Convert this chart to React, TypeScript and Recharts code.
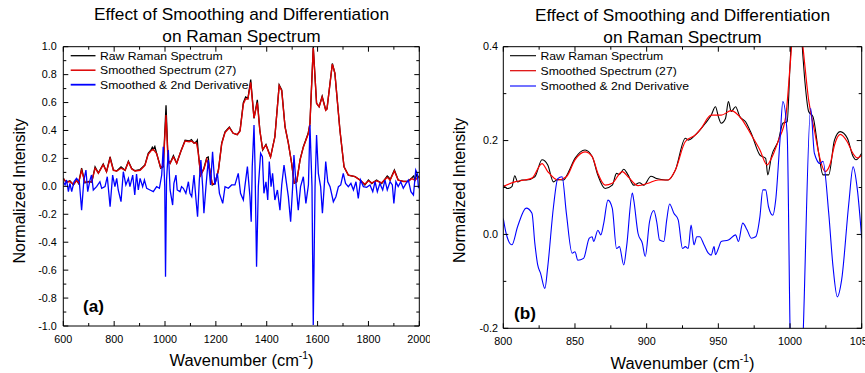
import React from 'react';
import { LineChart, Line, XAxis, YAxis } from 'recharts';

const FONT = '"Liberation Sans", Arial, Helvetica, sans-serif';
const SX = 1.08; // the source image is slightly stretched sideways

type Pt = [number, number];

// ---- panel (a): full spectrum, wavenumber vs normalized intensity ----
const rawA: Pt[] = [
  [600, 0.06], [606, 0.04], [613, 0.03], [626, 0.04], [640, 0.01], [652, 0.045], [660, 0.02], [672, 0.13],
  [685, 0.025], [700, 0.035], [712, 0.03], [725, 0.14], [738, 0.095], [757, 0.16], [770, 0.105], [784, 0.21],
  [797, 0.117], [810, 0.11], [827, 0.14], [843, 0.115], [856, 0.18], [869, 0.127], [882, 0.112], [902, 0.12],
  [921, 0.153], [934, 0.236], [945, 0.26], [950, 0.28], [954, 0.265], [960, 0.285], [967, 0.236], [983, 0.13],
  [993, 0.14], [1004, 0.58], [1012, 0.19], [1020, 0.165], [1033, 0.22], [1046, 0.165], [1062, 0.25], [1079, 0.33],
  [1095, 0.325], [1104, 0.335], [1114, 0.31], [1124, 0.32], [1127, 0.33], [1130, 0.26], [1140, 0.08], [1153, 0.13],
  [1164, 0.205], [1170, 0.21], [1174, 0.14], [1186, 0.01], [1197, 0.022], [1210, 0.117], [1223, 0.31], [1236, 0.39],
  [1253, 0.425], [1268, 0.38], [1284, 0.37], [1295, 0.4], [1308, 0.6], [1317, 0.64], [1326, 0.63], [1337, 0.765],
  [1350, 0.487], [1363, 0.62], [1373, 0.4], [1384, 0.26], [1397, 0.3], [1415, 0.21], [1432, 0.355], [1449, 0.726],
  [1459, 0.69], [1472, 0.427], [1485, 0.31], [1498, 0.165], [1508, 0.022], [1518, 0.033], [1531, 0.19], [1544, 0.284],
  [1563, 0.38], [1570, 0.45], [1583, 1.0], [1596, 0.595], [1606, 0.57], [1618, 0.645], [1632, 0.547], [1637, 0.555],
  [1658, 0.88], [1668, 0.81], [1688, 0.4], [1704, 0.14], [1721, 0.08], [1747, 0.07], [1767, 0.045], [1786, 0.01],
  [1800, 0.045], [1813, 0.02], [1832, 0.045], [1852, 0.02], [1874, 0.075], [1880, 0.065], [1885, 0.045], [1902, 0.117],
  [1917, 0.045], [1937, 0.035], [1956, 0.035], [1970, 0.06], [1978, 0.075], [1983, 0.045], [1990, 0.085], [1996, 0.07],
  [2000, 0.06],
];

const smoothA: Pt[] = [
  [600, 0.055], [613, 0.03], [626, 0.035], [640, 0.015], [652, 0.04], [660, 0.025], [672, 0.115], [685, 0.03],
  [700, 0.03], [712, 0.035], [725, 0.13], [738, 0.095], [757, 0.155], [770, 0.105], [784, 0.2], [797, 0.115],
  [810, 0.11], [827, 0.13], [843, 0.115], [856, 0.175], [869, 0.125], [882, 0.11], [902, 0.115], [921, 0.15],
  [934, 0.23], [945, 0.255], [954, 0.265], [967, 0.235], [983, 0.135], [993, 0.15], [1004, 0.51], [1012, 0.18],
  [1020, 0.165], [1033, 0.21], [1046, 0.165], [1062, 0.25], [1079, 0.325], [1095, 0.32], [1104, 0.325], [1114, 0.31],
  [1124, 0.31], [1130, 0.25], [1140, 0.08], [1153, 0.125], [1164, 0.195], [1174, 0.14], [1186, 0.015], [1197, 0.025],
  [1210, 0.115], [1223, 0.305], [1236, 0.385], [1253, 0.42], [1268, 0.38], [1284, 0.37], [1295, 0.395], [1308, 0.59],
  [1317, 0.625], [1326, 0.625], [1337, 0.745], [1350, 0.49], [1363, 0.6], [1373, 0.4], [1384, 0.265], [1397, 0.295],
  [1415, 0.21], [1432, 0.355], [1449, 0.72], [1459, 0.685], [1472, 0.425], [1485, 0.31], [1498, 0.165], [1508, 0.025],
  [1518, 0.035], [1531, 0.19], [1544, 0.28], [1563, 0.375], [1570, 0.45], [1583, 0.99], [1596, 0.595], [1606, 0.57],
  [1618, 0.64], [1632, 0.545], [1637, 0.555], [1658, 0.875], [1668, 0.81], [1688, 0.4], [1704, 0.14], [1721, 0.08],
  [1747, 0.07], [1767, 0.045], [1786, 0.015], [1800, 0.04], [1813, 0.025], [1832, 0.04], [1852, 0.025], [1874, 0.065],
  [1885, 0.045], [1902, 0.11], [1917, 0.045], [1937, 0.035], [1956, 0.035], [1970, 0.055], [1983, 0.045], [1996, 0.065],
  [2000, 0.06],
];

const derivA: Pt[] = [
  [600, 0.033], [607, 0.01], [613, 0.045], [620, -0.038], [626, 0.021], [633, -0.038], [642, 0.033], [652, 0.057],
  [663, 0.033], [672, -0.17], [681, 0.045], [689, 0.117], [696, -0.038], [705, 0.045], [711, 0.081], [718, -0.026],
  [731, -0.002], [744, 0.033], [751, -0.014], [764, -0.002], [773, 0.069], [784, -0.146], [794, 0.081], [803, -0.002],
  [810, 0.057], [816, -0.026], [827, -0.11], [836, 0.105], [846, 0.01], [856, 0.057], [862, -0.002], [873, 0.081],
  [881, -0.062], [888, 0.088], [895, -0.026], [902, 0.057], [912, -0.002], [919, 0.045], [928, -0.014], [941, -0.026],
  [954, -0.038], [967, -0.002], [978, -0.014], [987, 0.081], [993, 0.284], [999, -0.002], [1002, -0.647], [1006, 0.045],
  [1013, 0.26], [1020, -0.026], [1030, -0.134], [1035, 0.021], [1043, 0.081], [1048, -0.026], [1059, -0.038], [1065, -0.002],
  [1072, -0.014], [1082, -0.05], [1092, 0.033], [1098, -0.05], [1105, -0.074], [1114, 0.081], [1122, -0.098], [1128, -0.217],
  [1135, 0.045], [1141, 0.189], [1148, -0.002], [1153, -0.193], [1161, -0.002], [1170, 0.189], [1179, 0.01], [1187, 0.248],
  [1196, 0.01], [1206, 0.093], [1214, -0.05], [1227, -0.122], [1236, -0.002], [1249, -0.014], [1262, 0.01], [1275, 0.01],
  [1288, 0.093], [1297, -0.05], [1308, -0.098], [1314, -0.002], [1324, 0.141], [1334, -0.074], [1339, -0.253], [1343, 0.141],
  [1350, 0.439], [1354, 0.141], [1360, -0.575], [1367, -0.002], [1376, 0.236], [1383, 0.212], [1389, -0.05], [1397, 0.033],
  [1404, -0.098], [1410, 0.177], [1417, -0.002], [1423, 0.093], [1432, -0.098], [1442, -0.026], [1452, -0.17], [1459, 0.01],
  [1468, 0.153], [1476, 0.045], [1485, -0.074], [1494, -0.253], [1502, -0.002], [1507, 0.224], [1515, 0.021], [1524, -0.17],
  [1533, -0.002], [1544, 0.069], [1554, -0.122], [1564, 0.01], [1570, 0.439], [1578, -0.002], [1583, -0.993], [1590, -0.002],
  [1596, 0.368], [1603, 0.093], [1612, -0.002], [1619, -0.193], [1626, -0.002], [1632, 0.177], [1640, 0.033], [1649, -0.002],
  [1662, -0.11], [1672, -0.074], [1682, -0.002], [1691, 0.01], [1701, 0.093], [1710, 0.021], [1721, -0.002], [1731, 0.021],
  [1741, -0.026], [1751, 0.033], [1760, -0.086], [1769, 0.045], [1780, -0.002], [1793, -0.007], [1806, 0.01], [1817, -0.038],
  [1826, 0.033], [1835, -0.038], [1845, 0.021], [1856, -0.026], [1865, 0.045], [1874, -0.026], [1885, 0.033], [1894, 0.01],
  [1900, -0.122], [1908, 0.033], [1917, -0.002], [1927, 0.033], [1937, -0.014], [1948, 0.021], [1957, 0.045], [1967, -0.038],
  [1977, -0.062], [1986, 0.117], [1992, 0.093], [1997, -0.014],
];

// ---- panel (b): zoom on 800-1050 ----
const rawB: Pt[] = [
  [800, 0.105], [803, 0.098], [806, 0.102], [808, 0.125], [810, 0.112], [813, 0.116], [816, 0.116], [822, 0.123],
  [827, 0.159], [831, 0.148], [835, 0.112], [838, 0.117], [842, 0.116], [845, 0.13], [850, 0.162], [857, 0.18],
  [862, 0.166], [866, 0.126], [871, 0.098], [876, 0.105], [879, 0.13], [881, 0.128], [884, 0.139], [887, 0.127],
  [891, 0.105], [895, 0.11], [898, 0.105], [903, 0.124], [907, 0.119], [913, 0.116], [915, 0.116], [920, 0.137],
  [927, 0.205], [929, 0.201], [934, 0.212], [941, 0.237], [945, 0.254], [948, 0.272], [950, 0.251], [952, 0.237],
  [955, 0.247], [957, 0.283], [959, 0.262], [962, 0.272], [965, 0.251], [969, 0.24], [973, 0.215], [979, 0.169],
  [983, 0.162], [984.5, 0.127], [987, 0.166], [992, 0.201], [995, 0.237], [998, 0.24], [1000, 0.36], [1004.5, 0.58],
  [1009, 0.38], [1010.5, 0.322], [1013, 0.262], [1016, 0.251], [1020, 0.173], [1023, 0.127], [1027, 0.127], [1031, 0.201],
  [1035, 0.219], [1040, 0.205], [1044, 0.166], [1046, 0.159], [1050, 0.173],
];

const smoothB: Pt[] = [
  [800, 0.102], [808, 0.112], [815, 0.116], [820, 0.12], [827, 0.151], [831, 0.134], [838, 0.116], [844, 0.123],
  [850, 0.159], [857, 0.176], [862, 0.166], [866, 0.13], [871, 0.105], [876, 0.109], [883, 0.134], [887, 0.123],
  [894, 0.104], [901, 0.109], [908, 0.116], [915, 0.116], [920, 0.137], [927, 0.198], [934, 0.212], [938, 0.226],
  [945, 0.254], [952, 0.254], [959, 0.264], [966, 0.247], [973, 0.212], [979, 0.18], [984, 0.148], [987, 0.162],
  [992, 0.201], [997, 0.251], [1000, 0.357], [1004.5, 0.52], [1009, 0.4], [1013, 0.286], [1017, 0.222], [1021, 0.16],
  [1024.5, 0.134], [1028, 0.15], [1031, 0.19], [1035, 0.213], [1040, 0.197], [1044, 0.172], [1047, 0.163], [1050, 0.169],
];

const derivB: Pt[] = [
  [800, 0.034], [802, 0.002], [806, -0.022], [810, 0.017], [816, 0.056], [820, 0.045], [822, -0.019], [824, -0.065],
  [826, -0.083], [829, -0.115], [831, -0.069], [835, 0.059], [838, 0.119], [841, 0.123], [844, 0.045], [848, -0.04],
  [850, -0.037], [852, -0.055], [856, -0.051], [860, -0.008], [862, -0.005], [863, -0.015], [866, 0.009], [868, -0.001],
  [870, 0.023], [873, 0.073], [876, 0.056], [879, -0.03], [881, -0.026], [884, -0.065], [886, -0.026], [890, 0.088],
  [891, 0.073], [894, 0.002], [897, -0.019], [899, -0.047], [902, 0.027], [905, 0.051], [907, 0.027], [909, -0.012],
  [912, -0.015], [914, 0.031], [916, 0.065], [919, 0.045], [922, 0.031], [925, -0.03], [927, -0.026], [929, -0.03],
  [931, 0.02], [933, -0.022], [935, -0.005], [937, -0.005], [940, -0.022], [943, -0.04], [945, -0.044], [947, -0.026],
  [948, -0.043], [950, -0.03], [952, -0.015], [957, -0.012], [962, -0.001], [964, -0.015], [967, 0.024], [970, 0.01],
  [973, -0.008], [976, -0.005], [979, 0.038], [981, 0.095], [983, 0.095], [985, 0.059], [988, 0.041], [990, 0.073],
  [993, 0.201], [995, 0.283], [998, 0.215], [1000, -0.2], [1004.7, -0.65], [1009.3, -0.2], [1014.4, 0.269], [1017, 0.173],
  [1021, 0.151], [1023, 0.156], [1027, 0.045], [1030, -0.069], [1033, -0.133], [1036, -0.097], [1041, 0.066], [1044, 0.144],
  [1047, 0.095], [1050, -0.008],
];

// ---- axis ticks ----
const xMajorA = [600, 800, 1000, 1200, 1400, 1600, 1800, 2000];
const xMinorA = [700, 900, 1100, 1300, 1500, 1700, 1900];
const yMajorA = [-1.0, -0.8, -0.6, -0.4, -0.2, 0.0, 0.2, 0.4, 0.6, 0.8, 1.0];
const yMinorA = [-0.9, -0.7, -0.5, -0.3, -0.1, 0.1, 0.3, 0.5, 0.7, 0.9];
const xMajorB = [800, 850, 900, 950, 1000, 1050];
const xMinorB = [825, 875, 925, 975, 1025];
const yMajorB = [-0.2, 0.0, 0.2, 0.4];
const yMinorB = [-0.1, 0.1, 0.3];

const seriesNames = ['Raw Raman Spectrum', 'Smoothed Spectrum (27)', 'Smoothed & 2nd Derivative'];

const toRows = (pts: Pt[]) => pts.map(([w, v]) => ({ w, v }));
const isMajor = (majors: number[], v: number) => majors.some((m) => Math.abs(m - v) < 1e-6);

type PanelCfg = {
  width: number;
  left: number;
  right: number;
  top: number;
  bottom: number;
  xDomain: [number, number];
  yDomain: [number, number];
  xMajor: number[];
  xMinor: number[];
  yMajor: number[];
  yMinor: number[];
  xLabelDy: number;
  yLabelGap: number;
  curve: 'linear' | 'monotone';
  series: { pts: Pt[]; color: string; width: number }[];
};

const H = 373;
const AX = 2; // thickness reserved for each axis

function Panel({ cfg }: { cfg: PanelCfg }) {
  const { width, left, right, top, bottom } = cfg;
  const xTicks = [...cfg.xMajor, ...cfg.xMinor].sort((a, b) => a - b);
  const yTicks = [...cfg.yMajor, ...cfg.yMinor].sort((a, b) => a - b);
  const tl = (major: boolean) => (major ? 5 : 3);

  const bottomTick = (p: any) => {
    const v = p.payload.value;
    const m = isMajor(cfg.xMajor, v);
    return (
      <g>
        <line x1={p.x} y1={bottom} x2={p.x} y2={bottom - tl(m)} stroke="#000" />
        {m && (
          <text transform={`translate(${p.x},${bottom + cfg.xLabelDy}) scale(${SX},1)`} textAnchor="middle" fontSize={10} fontFamily={FONT} fill="#000">
            {v}
          </text>
        )}
      </g>
    );
  };
  const topTick = (p: any) => {
    const m = isMajor(cfg.xMajor, p.payload.value);
    return <line x1={p.x} y1={top} x2={p.x} y2={top + tl(m)} stroke="#000" />;
  };
  const leftTick = (p: any) => {
    const v = p.payload.value;
    const m = isMajor(cfg.yMajor, v);
    return (
      <g>
        <line x1={left} y1={p.y} x2={left + tl(m)} y2={p.y} stroke="#000" />
        {m && (
          <text transform={`translate(${left - cfg.yLabelGap},${p.y + 3.6}) scale(${SX},1)`} textAnchor="end" fontSize={10} fontFamily={FONT} fill="#000">
            {v.toFixed(1)}
          </text>
        )}
      </g>
    );
  };
  const rightTick = (p: any) => {
    const m = isMajor(cfg.yMajor, p.payload.value);
    return <line x1={right} y1={p.y} x2={right - tl(m)} y2={p.y} stroke="#000" />;
  };

  const axisLine = { stroke: '#000', strokeWidth: 1 };

  return (
    <LineChart width={width} height={H}
      margin={{ top: top - AX, right: width - right - AX, bottom: H - bottom - AX, left: left - AX }}>
      <XAxis xAxisId="b" orientation="bottom" dataKey="w" type="number" domain={cfg.xDomain} allowDataOverflow ticks={xTicks}
        interval={0} height={AX} tickSize={0} tickMargin={0} tickLine={false} axisLine={axisLine} tick={bottomTick} />
      <XAxis xAxisId="t" orientation="top" dataKey="w" type="number" domain={cfg.xDomain} allowDataOverflow ticks={xTicks}
        interval={0} height={AX} tickSize={0} tickMargin={0} tickLine={false} axisLine={axisLine} tick={topTick} />
      <YAxis yAxisId="l" orientation="left" type="number" domain={cfg.yDomain} allowDataOverflow ticks={yTicks}
        interval={0} width={AX} tickSize={0} tickMargin={0} tickLine={false} axisLine={axisLine} tick={leftTick} />
      <YAxis yAxisId="r" orientation="right" type="number" domain={cfg.yDomain} allowDataOverflow ticks={yTicks}
        interval={0} width={AX} tickSize={0} tickMargin={0} tickLine={false} axisLine={axisLine} tick={rightTick} />
      {cfg.series.map((s, i) => (
        <Line key={i} xAxisId="b" yAxisId="l" data={toRows(s.pts)} dataKey="v" type={cfg.curve} stroke={s.color}
          strokeWidth={s.width} dot={false} activeDot={false} isAnimationActive={false} />
      ))}
    </LineChart>
  );
}

const panelA: PanelCfg = {
  width: 430, left: 63.3, right: 419.3, top: 46.7, bottom: 326,
  xDomain: [600, 2000], yDomain: [-1, 1],
  xMajor: xMajorA, xMinor: xMinorA, yMajor: yMajorA, yMinor: yMinorA,
  xLabelDy: 16.5, yLabelGap: 6.5, curve: 'linear',
  series: [
    { pts: rawA, color: '#000000', width: 1.3 },
    { pts: smoothA, color: '#dd0000', width: 1.4 },
    { pts: derivA, color: '#0000ff', width: 1.3 },
  ],
};

const panelB: PanelCfg = {
  width: 435, left: 73.3, right: 431.7, top: 46.7, bottom: 328.3,
  xDomain: [800, 1050], yDomain: [-0.2, 0.4],
  xMajor: xMajorB, xMinor: xMinorB, yMajor: yMajorB, yMinor: yMinorB,
  xLabelDy: 17, yLabelGap: 5.3, curve: 'monotone',
  series: [
    { pts: rawB, color: '#000000', width: 1.1 },
    { pts: smoothB, color: '#ff0000', width: 1.2 },
    { pts: derivB, color: '#0000ff', width: 1.1 },
  ],
};

const legendColors = ['#000000', '#dd0000', '#0000ff'];

function T({ x, y, size = 16, anchor = 'middle', bold = false, sx = SX, children }: any) {
  return (
    <text transform={`translate(${x},${y}) scale(${sx},1)`} fontSize={size} textAnchor={anchor}
      fontWeight={bold ? 'bold' : 'normal'} fontFamily={FONT} fill="#000">
      {children}
    </text>
  );
}

function Labels({ cx, t1, t2, yl, xl, lx1, lx2, ly, tag, tagX, tagY, lw }: any) {
  return (
    <g>
      <T x={cx} y={t1}>Effect of Smoothing and Differentiation</T>
      <T x={cx} y={t2}>on Raman Spectrum</T>
      <text transform={`translate(${yl[0]},${yl[1]}) rotate(-90)`} fontSize={16} textAnchor="middle" fontFamily={FONT} fill="#000">
        Normalized Intensity
      </text>
      <T x={cx} y={xl} sx={1.03}>
        Wavenumber (cm<tspan fontSize={10} dy={-7}>-1</tspan><tspan dy={7}>)</tspan>
      </T>
      {seriesNames.map((n, i) => (
        <g key={n}>
          <line x1={lx1} x2={lx2} y1={ly[i]} y2={ly[i]} stroke={legendColors[i]} strokeWidth={lw[i]} />
          <T x={lx2 + 4.5} y={ly[i] + 4.1} size={11.3} anchor="start">{n}</T>
        </g>
      ))}
      <T x={tagX} y={tagY} size={16.5} anchor="start" bold sx={1.04}>{tag}</T>
    </g>
  );
}

export default function App() {
  return (
    <div style={{ position: 'absolute', left: 0, top: 0, width: 865, height: H, background: '#fff', overflow: 'hidden' }}>
      <div style={{ position: 'absolute', left: 0, top: 0 }}>
        <Panel cfg={panelA} />
      </div>
      <div style={{ position: 'absolute', left: 430, top: 0 }}>
        <Panel cfg={panelB} />
      </div>
      <svg width={865} height={H} style={{ position: 'absolute', left: 0, top: 0, pointerEvents: 'none' }}>
        <Labels cx={241.5} t1={20} t2={41.5} yl={[24.5, 191]} xl={366} lx1={70.7} lx2={95.5}
          ly={[55.7, 70.2, 84.7]} lw={[1.3, 1.5, 1.8]} tag="(a)" tagX={83} tagY={312} />
        <Labels cx={682.5} t1={21} t2={43} yl={[465, 190.5]} xl={369} lx1={510} lx2={536}
          ly={[55.7, 70.7, 86]} lw={[1.1, 1.2, 1.1]} tag="(b)" tagX={514} tagY={319} />
      </svg>
    </div>
  );
}
